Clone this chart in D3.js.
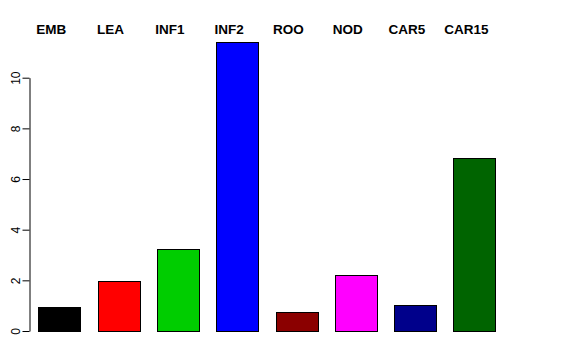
<!DOCTYPE html>
<html>
<head>
<meta charset="utf-8">
<script src="https://cdn.jsdelivr.net/npm/d3@7"></script>
<style>
  body { margin: 0; background: #fff; }
  svg { display: block; font-family: "Liberation Sans", Arial, sans-serif; }
</style>
</head>
<body>
<div class="chart"></div>
<script>
const categories = ["EMB", "LEA", "INF1", "INF2", "ROO", "NOD", "CAR5", "CAR15"];
const values = [0.95, 1.96, 3.25, 11.4, 0.74, 2.21, 1.02, 6.83];
const barColors = ["#000000", "#FF0000", "#00CD00", "#0000FF", "#8B0000", "#FF00FF", "#00008B", "#006400"];
const yTicks = [0, 2, 4, 6, 8, 10];

const w = 576;
const h = 360;

const svg = d3.select(".chart")
  .append("svg")
  .attr("width", w)
  .attr("height", h);

const x = d3.scaleBand()
  .domain(categories)
  .range([38.4, 495.2])
  .paddingInner(0.294)
  .paddingOuter(0);

const y = d3.scaleLinear()
  .domain([0, 10])
  .range([331, 77.7]);

// bars
svg.selectAll("rect.bar")
  .data(categories)
  .join("rect")
    .attr("class", "bar")
    .attr("x", d => Math.round(x(d)) + 0.5)
    .attr("y", (d, i) => Math.round(y(values[i])) + 0.5)
    .attr("width", Math.round(x.bandwidth()))
    .attr("height", (d, i) => Math.round(y(0)) - Math.round(y(values[i])))
    .attr("fill", (d, i) => barColors[i])
    .attr("stroke", "#000")
    .attr("stroke-width", 1);

// category labels on top
svg.selectAll("text.cat")
  .data(categories)
  .join("text")
    .attr("class", "cat")
    .attr("x", d => x(d) + x.bandwidth() / 2 - 8)
    .attr("y", 34)
    .attr("text-anchor", "middle")
    .attr("font-weight", "bold")
    .attr("font-size", "13.5px")
    .text(d => d);

// y axis
const yAxis = svg.append("g")
  .attr("transform", "translate(29.5,0)")
  .call(d3.axisLeft(y).tickValues(yTicks).tickSize(7).tickSizeOuter(0).tickPadding(0));

yAxis.select(".domain").attr("stroke", "#000");
yAxis.selectAll(".tick line").attr("stroke", "#000");
yAxis.selectAll(".tick text")
  .attr("font-size", "12px")
  .attr("font-family", "Liberation Sans, Arial, sans-serif")
  .attr("fill", "#000")
  .attr("transform", "rotate(-90)")
  .attr("x", 0)
  .attr("y", -10)
  .attr("dy", 0)
  .attr("text-anchor", "middle");
</script>
</body>
</html>
